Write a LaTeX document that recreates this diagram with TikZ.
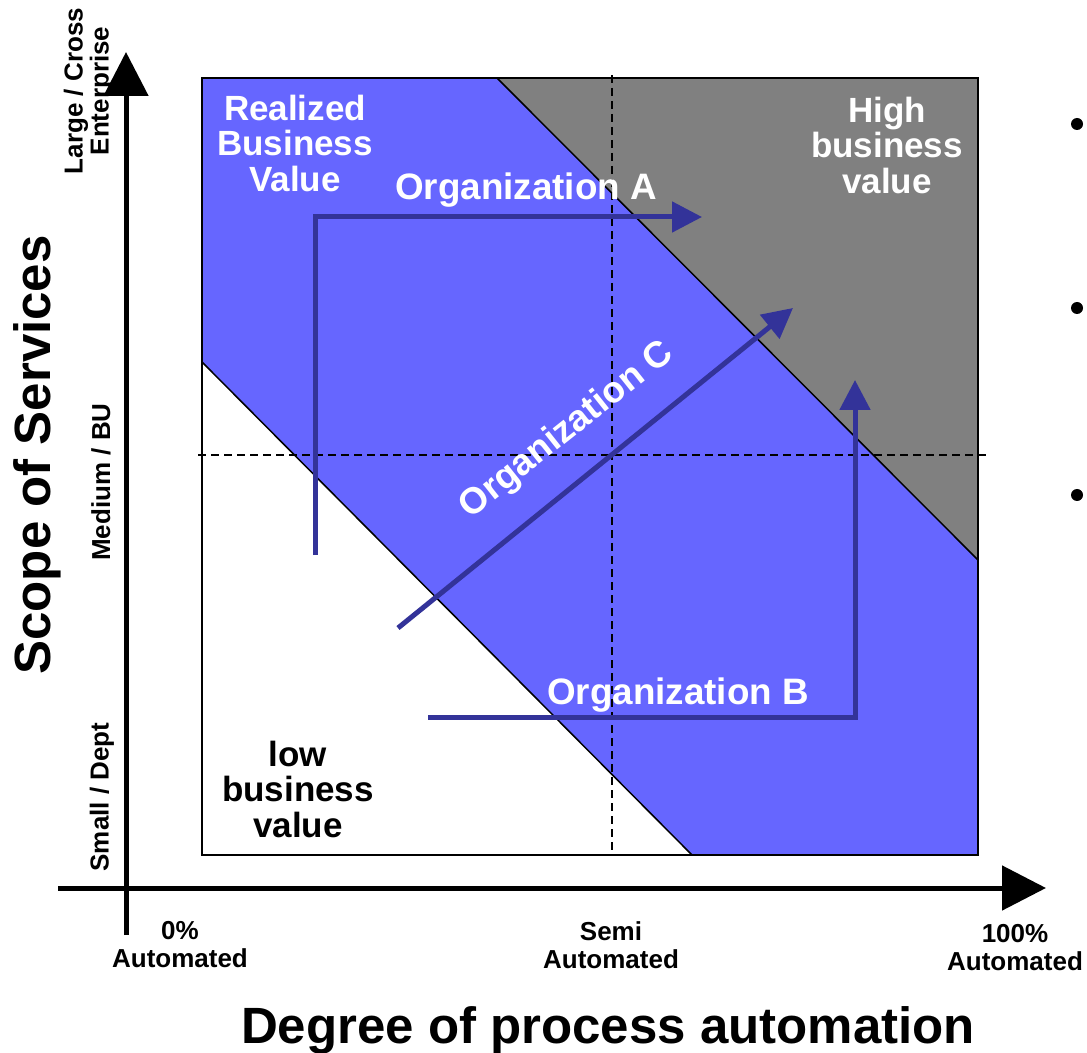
\documentclass[tikz,border=0pt]{standalone}
\usepackage{fontspec}
\setmainfont{Liberation Sans}
\usetikzlibrary{arrows.meta}
\definecolor{bandblue}{HTML}{6666FF}
\definecolor{arrowblue}{HTML}{333399}
\definecolor{highgrey}{HTML}{808080}
\tikzset{
	axis/.style={line width=2.5pt, -{Triangle[length=22pt,width=22pt]}},
	orgpath/.style={arrowblue, line width=2.5pt, -{Triangle[length=15pt,width=15pt]}},
	orglabel/.style={text=white, anchor=base, font=\fontsize{18.4}{18.4}\selectfont\bfseries},
	regionlabel/.style={align=center, font=\fontsize{17.5}{17.75}\selectfont\bfseries},
	ticklabel/.style={align=center, font=\fontsize{13}{14}\selectfont\bfseries},
	guide/.style={dash pattern=on 4pt off 2.5pt, line width=0.6pt}
}
\begin{document}
\begin{tikzpicture}[x=0.5pt, y=-0.5pt]
	\useasboundingbox (0,0) rectangle (1087,1053);
	\fill[bandblue] (202,78) rectangle (978,855);
	\fill[white] (202,362) -- (692,855) -- (202,855) -- cycle;
	\fill[highgrey] (497,78) -- (978,78) -- (978,560) -- cycle;
	\draw[line width=0.75pt] (202,362) -- (692,855);
	\draw[line width=0.75pt] (497,78) -- (978,560);
	\draw[line width=1pt] (202,78) rectangle (978,855);
	\draw[guide] (612,75) -- (612,855);
	\draw[guide] (198,455) -- (988,455);

	\draw[axis] (126,935) -- (126,52);
	\draw[axis] (58,888) -- (1046,888);

	\draw[orgpath] (315,555) |- (702,217);
	\draw[orgpath] (428,717) -| (855,380);
	\draw[orgpath] (398,628) -- (793,308);

	\node[orglabel] (orgA) at (526,200) {Organization A};
	\node[orglabel] (orgB) at (678,704) {Organization B};
	\node[orglabel, rotate=38.5] (orgC) at (573,438) {Organization C};

	\node[regionlabel, text=white] (realized) at (295,143) {Realized\\Business\\Value};
	\node[regionlabel, text=white] (high) at (887,145) {High\\business\\value};
	\node[regionlabel] (low) at (298,789) {low\\business\\value};

	\node[font=\fontsize{25.5}{25.5}\selectfont\bfseries, rotate=90, anchor=base] (scope) at (50,455) {Scope of Services};
	\node[font=\fontsize{25.5}{25.5}\selectfont\bfseries, anchor=base] (degree) at (608,1043) {Degree of process automation};

	\node[ticklabel] (zero) at (180,945) {0\%\\Automated};
	\node[ticklabel] (semi) at (611,945) {Semi\\Automated};
	\node[ticklabel] (full) at (1015,948) {100\%\\Automated};

	\node[ticklabel, rotate=90, font=\fontsize{13}{13}\selectfont\bfseries] (large) at (89,91) {Large / Cross\\Enterprise};
	\node[ticklabel, rotate=90] (medium) at (101,482) {Medium / BU};
	\node[ticklabel, rotate=90] (small) at (102,797) {Small / Dept};

	\foreach \y [count=\i] in {124,308,495}
		\node[circle, fill, inner sep=0pt, minimum size=6pt] (bullet\i) at (1077,\y) {};
\end{tikzpicture}
\end{document}
